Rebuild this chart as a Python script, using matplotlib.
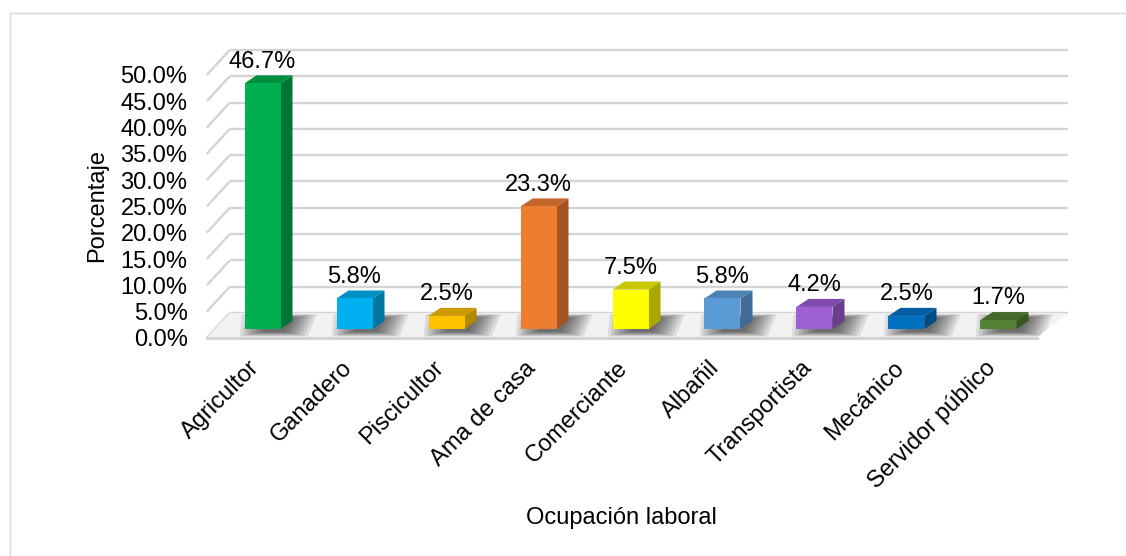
import matplotlib
matplotlib.use("Agg")
import matplotlib.pyplot as plt
from matplotlib.patches import Polygon
from matplotlib.lines import Line2D

plt.rcParams['font.family'] = ['Liberation Sans', 'DejaVu Sans']

categorias = ['Agricultor', 'Ganadero', 'Piscicultor', 'Ama de casa', 'Comerciante',
              'Albañil', 'Transportista', 'Mecánico', 'Servidor público']
porcentajes = [46.7, 5.8, 2.5, 23.3, 7.5, 5.8, 4.2, 2.5, 1.7]
ticks_y = [0, 5, 10, 15, 20, 25, 30, 35, 40, 45, 50]

# colores: frente, lado, tapa
frente = ['#00b050', '#00b0f0', '#ffc000', '#ed7d31', '#ffff00',
          '#5b9bd5', '#9e5fd0', '#0070c0', '#548235']
lado = ['#007535', '#0076a3', '#b38700', '#a45322', '#a8a800',
        '#3f6b94', '#6a3d8f', '#004d85', '#385823']
tapa = ['#00903f', '#0090c5', '#cc9a00', '#c4662a', '#c8c800',
        '#4d82b4', '#7f4aae', '#005da3', '#45692b']

# geometria (en unidades de datos)
PX_X = 92.0      # px por categoria
PX_Y = 5.26      # px por punto porcentual
W = 36 / PX_X    # ancho de barra
BDX, BDY = 12 / PX_X, 8 / PX_Y      # profundidad de barra
FDX, FDY = -7 / PX_X, -9 / PX_Y     # plano frontal del piso
KDX, KDY = 16 / PX_X, 16 / PX_Y     # pared del fondo
X0, X1 = -0.53, 8.49                # extremos del piso

fig = plt.figure(figsize=(11.26, 5.56), dpi=100)
xlim = (-0.8, 9.0)
ylim = (-4.0, 56.0)
left = 262.5 + PX_X * xlim[0]
right = 262.5 + PX_X * xlim[1]
top = 329 - PX_Y * ylim[1]
bot = 329 - PX_Y * ylim[0]
ax = fig.add_axes([left / 1126, (556 - bot) / 556, (right - left) / 1126, (bot - top) / 556])
ax.set_xlim(*xlim)
ax.set_ylim(*ylim)
for s in ax.spines.values():
    s.set_visible(False)

grid_c = '#d4d4d4'
# rejilla: pared izquierda (diagonales) + pared del fondo
for v in ticks_y:
    ax.plot([X0 + FDX, X0 + KDX], [v + FDY, v + KDY], color=grid_c, lw=1.7,
            solid_capstyle='butt', zorder=1)
    ax.plot([X0 + KDX, X1 + KDX + 0.09], [v + KDY, v + KDY], color=grid_c, lw=1.7,
            solid_capstyle='butt', zorder=1)

# piso
piso = Polygon([(X0 + FDX, FDY), (X1 + FDX, FDY), (X1 + KDX + 0.09, KDY), (X0 + KDX, KDY)],
               closed=True, facecolor='#f2f2f2', edgecolor='none', zorder=1.5)
ax.add_patch(piso)
ax.plot([X0 + FDX, X1 + FDX], [FDY, FDY], color=grid_c, lw=2.2, zorder=2)

# sombras difusas (capas semitransparentes)
sx = KDX - FDX
for i in range(len(porcentajes)):
    for k in range(8):
        a = 0.40 - k * 0.035
        b = 0.44 - k * 0.035
        y0 = FDY + 0.3 + k * 0.12
        y1 = KDY - 0.2 - k * 0.1
        c = i + 0.05
        sh = Polygon([(c - a + 0.1, y0), (c + b, y0),
                      (c + b + sx * 0.4, y1), (c - a + sx * 0.5, y1)],
                     closed=True, facecolor='black', edgecolor='none', alpha=0.09,
                     zorder=2, antialiased=True)
        sh.set_clip_path(piso)
        ax.add_patch(sh)

# barras: cara frontal con ax.bar, lado y tapa con poligonos
xs = list(range(len(categorias)))
ax.bar(xs, porcentajes, width=W, color=frente, zorder=4)
for i, v in enumerate(porcentajes):
    xr = i + W / 2
    xl = i - W / 2
    ax.add_patch(Polygon([(xr, 0), (xr + BDX, BDY), (xr + BDX, v + BDY), (xr, v)],
                         closed=True, facecolor=lado[i], edgecolor='none', zorder=3))
    ax.add_patch(Polygon([(xl, v), (xr, v), (xr + BDX, v + BDY), (xl + BDX, v + BDY)],
                         closed=True, facecolor=tapa[i], edgecolor='none', zorder=3))
    ax.annotate(f'{v:.1f}%', (i, v + BDY), xytext=(0, 5.5), textcoords='offset points',
                ha='center', va='baseline', fontsize=17, color='black', zorder=5)

ax.set_yticks([v + FDY for v in ticks_y])
ax.set_yticklabels([f'{v:.1f}%' for v in ticks_y], fontsize=17)
ax.tick_params(axis='y', length=0, pad=1)
ax.set_xticks([x - 0.15 for x in xs])
ax.set_xticklabels(categorias, rotation=45, ha='right', rotation_mode='anchor', fontsize=17)
ax.tick_params(axis='x', length=0, pad=5)

fig.text(97 / 1126, 1 - 206 / 556, 'Porcentaje', rotation=90, ha='center', va='center', fontsize=17)
fig.text(621 / 1126, 1 - 518 / 556, 'Ocupación laboral', ha='center', va='center', fontsize=17)

# borde del area del grafico
fig.add_artist(Line2D([10 / 1126, 10 / 1126], [0, 1 - 13 / 556], color='#d9d9d9', lw=1))
fig.add_artist(Line2D([10 / 1126, 1], [1 - 13 / 556, 1 - 13 / 556], color='#d9d9d9', lw=1))

fig.savefig('out.png', dpi=100)
